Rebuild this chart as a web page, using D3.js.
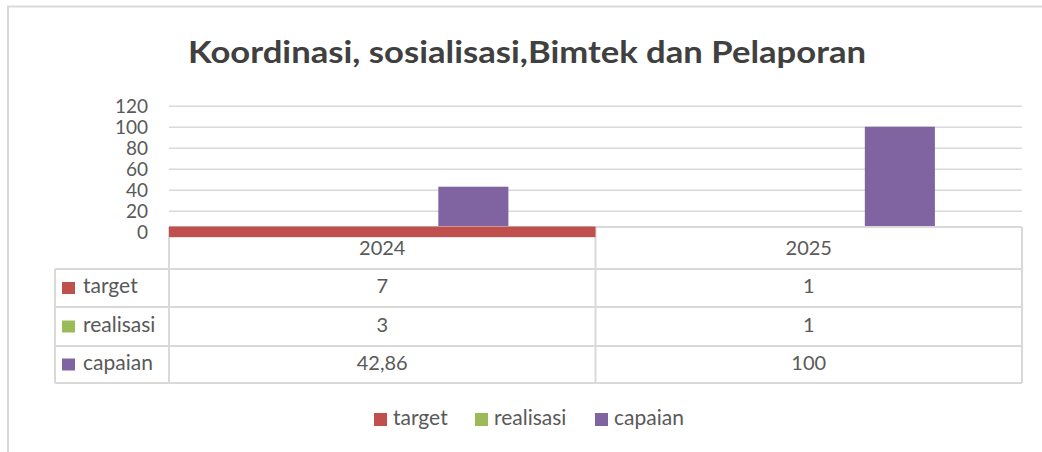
<!DOCTYPE html>
<html>
<head>
<meta charset="utf-8">
<script src="https://cdn.jsdelivr.net/npm/d3@7"></script>
<style>
  body { margin: 0; background: #fff; }
  svg text { font-family: Lato, "Open Sans", sans-serif; fill: #595959; }
</style>
</head>
<body>
<svg id="chart" width="1042" height="452"></svg>
<script>
// data
let years = ["2024", "2025"]
let seriesNames = ["target", "realisasi", "capaian"]
let target = [7, 1]
let realisasi = [3, 1]
let capaian = [42.86, 100]
let yTicks = [0, 20, 40, 60, 80, 100, 120]
let colors = ["#C0504D", "#9BBB59", "#8064A2"]

let seriesValues = [target, realisasi, capaian]
let fmt = v => String(v).replace(".", ",")

let svg = d3.select("#chart")

// chart frame
svg.append("rect")
    .attr("x", 8).attr("y", 6.5)
    .attr("width", 1060).attr("height", 470)
    .attr("fill", "none")
    .attr("stroke", "#d9d9d9")
    .attr("stroke-width", 2)

svg.append("text")
    .attr("x", 527).attr("y", 63)
    .attr("text-anchor", "middle")
    .attr("textLength", 678)
    .attr("lengthAdjust", "spacingAndGlyphs")
    .style("font-size", "31px")
    .style("font-weight", "bold")
    .style("fill", "#404040")
    .text("Koordinasi, sosialisasi,Bimtek dan Pelaporan")

let left = 169, right = 1022
let plotBottom = 227
let yScale = d3.scaleLinear().domain([0, 120]).range([231.7, 105.7])
let x0 = d3.scaleBand().domain(years).range([left, right])
let x1 = d3.scaleBand().domain(seriesNames).range([0, x0.bandwidth()])
    .paddingInner(0.2308).paddingOuter(0.956)

// gridlines
svg.append("g")
    .attr("transform", "translate(" + left + ",0)")
    .call(d3.axisLeft(yScale).tickValues(yTicks.filter(d => d > 0)).tickSize(-(right - left)).tickFormat(""))
    .call(g => g.select(".domain").remove())
    .selectAll("line")
    .attr("stroke", "#d9d9d9")
    .attr("stroke-width", 1.5)

// y labels
svg.append("g")
    .attr("transform", "translate(148,0)")
    .call(d3.axisLeft(yScale).tickValues(yTicks).tickSize(0).tickPadding(0))
    .call(g => g.select(".domain").remove())
    .selectAll("text")
    .attr("dy", "0.36em")
    .style("font-size", "19px")
    .style("fill", "#595959")

svg.append("clipPath").attr("id", "plotclip")
    .append("rect").attr("x", left).attr("y", 0)
    .attr("width", right - left).attr("height", plotBottom - 0.5)

let rows = years.map((y, i) => ({ year: y, vals: seriesNames.map((s, j) => ({ name: s, value: seriesValues[j][i], color: colors[j] })) }))

svg.append("g").attr("clip-path", "url(#plotclip)")
    .selectAll("g").data(rows).join("g")
    .attr("transform", d => "translate(" + x0(d.year) + ",0)")
    .selectAll("rect").data(d => d.vals.filter(v => v.name != "target")).join("rect")
    .attr("x", d => x1(d.name))
    .attr("width", x1.bandwidth())
    .attr("y", d => yScale(d.value))
    .attr("height", d => yScale(0) - yScale(d.value))
    .attr("fill", d => d.color)

// data table
let rowY = [plotBottom, 269, 307, 346, 383]
let tableLeft = 55
let tbl = svg.append("g").attr("stroke", "#d9d9d9").attr("stroke-width", 2)
tbl.append("line").attr("x1", left).attr("x2", right).attr("y1", rowY[0]).attr("y2", rowY[0])
rowY.slice(1).forEach(y => {
    tbl.append("line").attr("x1", tableLeft).attr("x2", right).attr("y1", y).attr("y2", y)
})
tbl.append("line").attr("x1", tableLeft).attr("x2", tableLeft).attr("y1", rowY[1]).attr("y2", rowY[4])
;[left, x0("2025"), right].forEach(x => {
    tbl.append("line").attr("x1", x).attr("x2", x).attr("y1", rowY[0]).attr("y2", rowY[4])
})

// target drawn as the flat band seen in the reference
let bandH = d3.scaleLinear().domain([1, 7]).range([0, 10.7]).clamp(true)
svg.append("g").selectAll("rect").data(rows).join("rect")
    .attr("x", d => x0(d.year))
    .attr("width", x0.bandwidth())
    .attr("y", plotBottom - 0.5)
    .attr("height", d => bandH(d.vals[0].value))
    .attr("fill", colors[0])

svg.append("g").selectAll("text").data(years).join("text")
    .attr("x", d => x0(d) + x0.bandwidth() / 2)
    .attr("y", 250)
    .attr("text-anchor", "middle")
    .attr("dominant-baseline", "middle")
    .style("font-size", "20px")
    .text(d => d)

seriesNames.forEach((s, j) => {
    let cy = (rowY[j + 1] + rowY[j + 2]) / 2
    svg.append("rect")
        .attr("x", 62).attr("y", cy - 6)
        .attr("width", 13).attr("height", 12)
        .attr("fill", colors[j])
    svg.append("text")
        .attr("x", 83).attr("y", cy)
        .attr("dominant-baseline", "middle")
        .style("font-size", "21px")
        .text(s)
    years.forEach((y, i) => {
        svg.append("text")
            .attr("x", x0(y) + x0.bandwidth() / 2)
            .attr("y", cy)
            .attr("text-anchor", "middle")
            .attr("dominant-baseline", "middle")
            .style("font-size", "20px")
            .text(fmt(seriesValues[j][i]))
    })
})

// legend
let legendX = [374, 475, 595]
let legend = svg.append("g").selectAll("g").data(seriesNames).join("g")
    .attr("transform", (d, i) => "translate(" + legendX[i] + ",413)")
legend.append("rect").attr("width", 13).attr("height", 13).attr("fill", (d, i) => colors[i])
legend.append("text")
    .attr("x", 19).attr("y", 7)
    .attr("dominant-baseline", "middle")
    .style("font-size", "21px")
    .text(d => d)
</script>
</body>
</html>
